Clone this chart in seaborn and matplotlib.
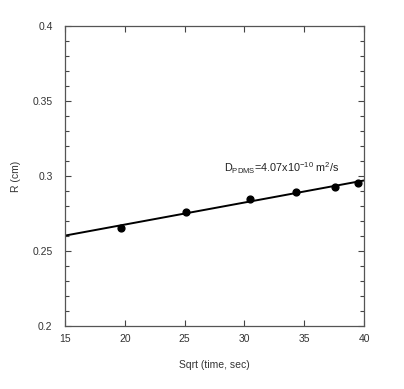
import numpy as np
import pandas as pd
import matplotlib
matplotlib.use('Agg')
import matplotlib.pyplot as plt
import seaborn as sns
from matplotlib.ticker import MultipleLocator

# data
sqrt_time = [19.7, 25.1, 30.5, 34.3, 37.6, 39.5]
radius = [0.2656, 0.2762, 0.2844, 0.2896, 0.2929, 0.2951]
df = pd.DataFrame({'x': sqrt_time, 'y': radius})

sns.set_style('ticks')
plt.rcParams['font.family'] = ['Liberation Sans', 'DejaVu Sans']
plt.rcParams['mathtext.fontset'] = 'custom'
plt.rcParams['mathtext.rm'] = 'Liberation Sans'
plt.rcParams['mathtext.it'] = 'Liberation Sans'

fig = plt.figure(figsize=(4.04, 3.89), dpi=100)
ax = fig.add_axes([0.161, 0.162, 0.740, 0.771])
ax.set_xlim(15, 40)
ax.set_ylim(0.2, 0.4)

# fitted line across the full x range
sns.regplot(data=df, x='x', y='y', ax=ax, ci=None, truncate=False,
            scatter_kws={'s': 24, 'color': 'black', 'alpha': 1, 'zorder': 3},
            line_kws={'color': 'black', 'lw': 1.4})
ax.set_xlim(15, 40)
ax.set_ylim(0.2, 0.4)

ax.xaxis.set_major_locator(MultipleLocator(5))
ax.yaxis.set_major_locator(MultipleLocator(0.05))
ax.yaxis.set_minor_locator(MultipleLocator(0.01))
ax.yaxis.set_major_formatter(plt.FuncFormatter(lambda v, p: f'{v:g}'))
ax.tick_params(which='both', direction='in', top=True, right=True,
               labelsize=7.5, colors='#444444', labelcolor='#333333')
ax.tick_params(which='major', length=4, width=0.8)
ax.tick_params(axis='y', which='major', pad=9)
ax.tick_params(axis='x', which='major', pad=6)
ax.tick_params(which='minor', length=3, width=0.8)
for s in ax.spines.values():
    s.set_color('#555555')
    s.set_linewidth(0.9)

ax.set_xlabel('Sqrt (time, sec)', fontsize=7.5, color='#333333', labelpad=11)
ax.set_ylabel('R (cm)', fontsize=7.5, color='#333333', labelpad=8)

ax.text(28.3, 0.3025, r'D$_{\mathrm{PDMS}}$=4.07x10$^{\mathrm{-10}}$ m$^{\mathrm{2}}$/s',
        fontsize=7.8, color='#222222')

fig.savefig('out.png', dpi=100)
